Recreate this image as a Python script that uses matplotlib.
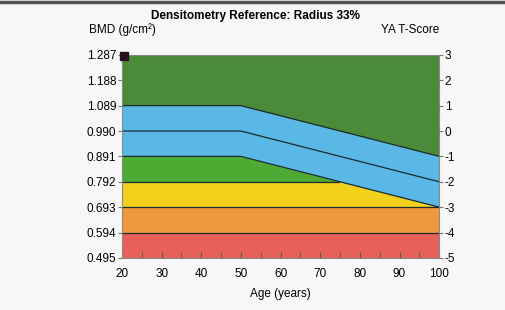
import numpy as np
import matplotlib.pyplot as plt
from matplotlib.lines import Line2D

plt.rcParams['font.family'] = ['Liberation Sans', 'DejaVu Sans']

# Reference curve: age break points and T-score boundaries
ages = [20, 50, 100]
upper_line = [1, 1, -1]     # top of blue band
middle_line = [0, 0, -2]    # line inside blue band
lower_line = [-1, -1, -3]   # bottom of blue band

# Axis ticks
tscore_ticks = [3, 2, 1, 0, -1, -2, -3, -4, -5]
bmd_ticks = [1.287, 1.188, 1.089, 0.990, 0.891, 0.792, 0.693, 0.594, 0.495]

# Patient point
pt_age = [20.5]
pt_bmd = [1.281]

# BMD per T-score unit
sd = 0.099
ya_mean = 0.990


def t2b(t):
    return ya_mean + np.asarray(t, dtype=float) * sd


fig = plt.figure(figsize=(5.06, 3.10), dpi=100, facecolor='#f7f7f7')
ax = fig.add_axes([0.241, 0.168, 0.627, 0.655])

x = np.array(ages, dtype=float)
xx = np.linspace(20, 100, 321)
top = np.full_like(xx, t2b(3))
up = np.interp(xx, x, t2b(upper_line))
low = np.interp(xx, x, t2b(lower_line))
m2 = np.full_like(xx, t2b(-2))
m3 = np.full_like(xx, t2b(-3))
m4 = np.full_like(xx, t2b(-4))
m5 = np.full_like(xx, t2b(-5))

c_dkgreen = '#4a8a38'
c_blue = '#5ab8e6'
c_green = '#4daa32'
c_yellow = '#f2d11c'
c_orange = '#f0983c'
c_red = '#e8605a'

ax.fill_between(xx, up, top, color=c_dkgreen, lw=0)
ax.fill_between(xx, low, up, color=c_blue, lw=0)
ax.fill_between(xx, m2, np.maximum(m2, low), color=c_green, lw=0)
ax.fill_between(xx, m3, np.minimum(m2, low), color=c_yellow, lw=0)
ax.fill_between(xx, m4, m3, color=c_orange, lw=0)
ax.fill_between(xx, m5, m4, color=c_red, lw=0)

lc = '#1a2a2a'
ax.plot(x, t2b(upper_line), color=lc, lw=0.9)
ax.plot(x, t2b(middle_line), color=lc, lw=0.9)
ax.plot(x, t2b(lower_line), color=lc, lw=0.9)
cross = xx[low >= m2].max()
ax.plot([20, cross], [t2b(-2)] * 2, color=lc, lw=0.9)
ax.plot([20, 100], [t2b(-3)] * 2, color=lc, lw=0.9)
ax.plot([20, 100], [t2b(-4)] * 2, color=lc, lw=0.9)

ax.plot(pt_age, pt_bmd, marker='s', ms=5.5, color='#2a1020', clip_on=False,
        zorder=5)

ax.set_xlim(20, 100)
ax.set_ylim(0.495, 1.287)
ax.set_xticks(range(20, 101, 10))
ax.set_xticks(range(25, 100, 10), minor=True)
ax.set_yticks(bmd_ticks)
ax.set_yticklabels([f'{v:.3f}' for v in bmd_ticks])
ax.tick_params(axis='x', direction='in', length=4, labelsize=8.5, color='#555555',
               pad=7, which='both')
ax.tick_params(axis='y', direction='out', length=3, labelsize=8.5,
               color='#777777', pad=1)
for s in ax.spines.values():
    s.set_color('#888888')
    s.set_linewidth(0.8)
ax.set_xlabel('Age (years)', fontsize=8.5, labelpad=6)

ax2 = ax.twinx()
ax2.set_ylim(-5, 3)
ax2.set_yticks(tscore_ticks)
ax2.set_yticklabels([str(t) for t in tscore_ticks])
ax2.tick_params(axis='y', direction='out', length=3, labelsize=8.5,
                color='#777777', pad=1)
for s in ax2.spines.values():
    s.set_visible(False)

fig.text(0.505, 0.94, 'Densitometry Reference: Radius 33%', ha='center',
         fontsize=8.5, fontweight='bold')
fig.text(0.175, 0.893, 'BMD (g/cm²)', ha='left', fontsize=8.5)
fig.text(0.868, 0.893, 'YA T-Score', ha='right', fontsize=8.5)

# scanned page border at top
fig.add_artist(Line2D([0, 1], [0.995, 0.995], transform=fig.transFigure,
                      color='#555555', lw=2.5))

fig.savefig('out.png', dpi=100, facecolor=fig.get_facecolor())
